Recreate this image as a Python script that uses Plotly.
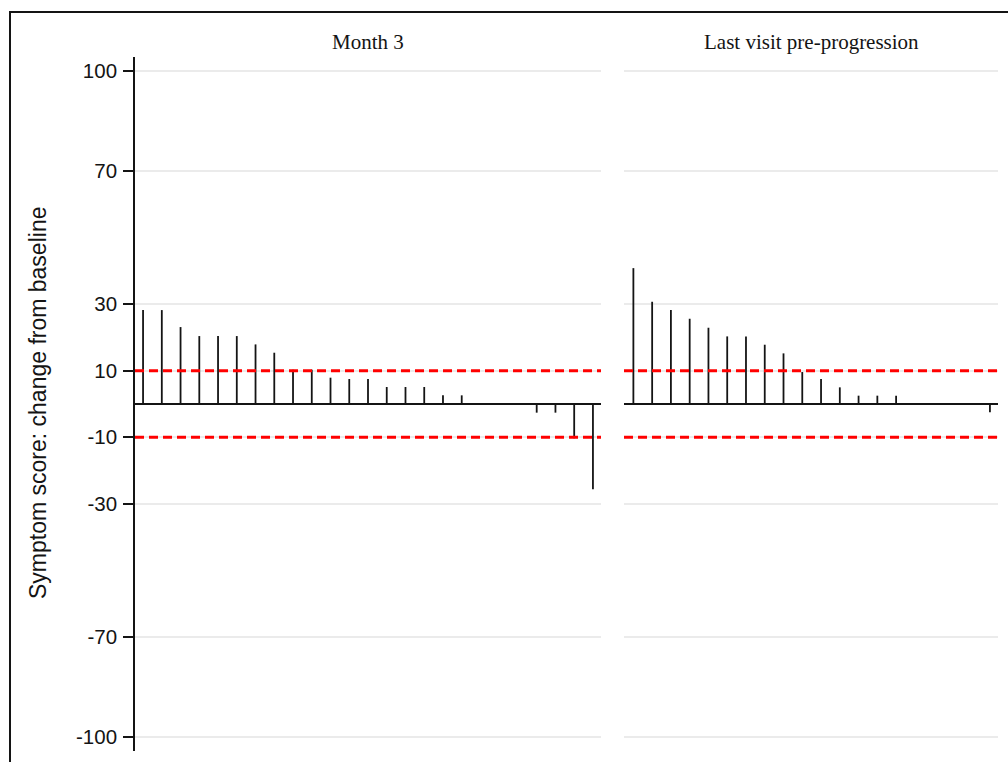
import plotly.graph_objects as go

# Per-patient change from baseline in symptom score, sorted within each panel
panel_titles = ["Month 3", "Last visit pre-progression"]
month3_change = [28.2, 28.2, 23.1, 20.4, 20.4, 20.4, 17.9, 15.4, 10.3, 10.3,
                 7.9, 7.5, 7.5, 5.1, 5.1, 5.1, 2.6, 2.6, 0, 0, 0,
                 -2.6, -2.6, -10.3, -25.6]
last_visit_change = [40.8, 30.7, 28.2, 25.6, 22.9, 20.3, 20.3, 17.8, 15.2, 9.6,
                     7.5, 5.0, 2.5, 2.5, 2.5, 0, 0, 0, 0, -2.5]
y_ticks = [100, 70, 30, 10, -10, -30, -70, -100]
threshold_lines = [10, -10]

W, H = 1008, 762
ML, MR, MT, MB = 135, 10, 57, 11
PW, PH = W - ML - MR, H - MT - MB


def px_x(px):
    return (px - ML) / PW


def px_y(py):
    return (H - MB - py) / PH


def stems(values):
    xs, ys = [], []
    for i, v in enumerate(values, start=1):
        xs += [i, i, None]
        ys += [0, v, None]
    return xs, ys


fig = go.Figure()
for k, vals in enumerate([month3_change, last_visit_change]):
    xs, ys = stems(vals)
    fig.add_trace(go.Scatter(
        x=xs, y=ys, mode="lines",
        line=dict(color="#141414", width=1.8),
        xaxis="x" if k == 0 else "x2",
        yaxis="y" if k == 0 else "y2",
        showlegend=False, hoverinfo="skip",
    ))

yrange = [-104.2, 104.2]
common_y = dict(
    range=yrange, tickvals=y_ticks,
    showgrid=True, gridcolor="#ebebeb", gridwidth=1.5,
    zeroline=True, zerolinecolor="#141414", zerolinewidth=1.7,
)
common_x = dict(showgrid=False, zeroline=False, showticklabels=False,
                ticks="", showline=False)

split_left = px_x(601)
split_right = px_x(624)
n1, n2 = len(month3_change), len(last_visit_change)

fig.update_layout(
    width=W, height=H,
    margin=dict(l=ML, r=MR, t=MT, b=MB),
    paper_bgcolor="white", plot_bgcolor="white",
    xaxis=dict(domain=[0, split_left], range=[1 - 0.43, n1 + 0.43], **common_x),
    xaxis2=dict(domain=[split_right, 1], range=[1 - 0.5, n2 + 0.43], **common_x),
    yaxis=dict(
        anchor="x",
        ticktext=[str(t) for t in y_ticks],
        ticks="outside", ticklen=10, tickwidth=1.5, tickcolor="#141414",
        ticklabelstandoff=2,
        tickfont=dict(family="Liberation Sans, Arial", size=20.5, color="#141414"),
        showline=True, linecolor="#141414", linewidth=1.7,
        **common_y,
    ),
    yaxis2=dict(anchor="x2", matches="y", showticklabels=False, ticks="",
                showline=False, **common_y),
    font=dict(family="Liberation Sans, Arial", color="#141414"),
)

# Reference band at +/-10 points in each panel
for xr in ["x", "x2"]:
    for yv in threshold_lines:
        fig.add_shape(type="line", xref=f"{xr} domain", yref="y",
                      x0=0, x1=1, y0=yv, y1=yv, layer="above",
                      line=dict(color="#ff0000", width=3, dash="9px,5px"))

# Panel strip titles
for xr, title in zip(["x", "x2"], panel_titles):
    fig.add_annotation(text=title, xref=f"{xr} domain", yref="paper",
                       x=0.5, y=px_y(42), xanchor="center", yanchor="middle",
                       showarrow=False,
                       font=dict(family="Liberation Serif, Times New Roman",
                                 size=21, color="#141414"))

# Y-axis title
fig.add_annotation(text="Symptom score: change from baseline",
                   xref="paper", yref="paper", x=px_x(38), y=px_y(403),
                   xanchor="center", yanchor="middle", textangle=-90,
                   showarrow=False,
                   font=dict(family="Liberation Sans, Arial", size=23,
                             color="#141414"))

# Figure frame
fig.add_shape(type="rect", xref="paper", yref="paper",
              x0=px_x(10), x1=px_x(1100), y0=px_y(900), y1=px_y(12),
              line=dict(color="#141414", width=2), fillcolor="rgba(0,0,0,0)")

fig.write_html("out.html")
